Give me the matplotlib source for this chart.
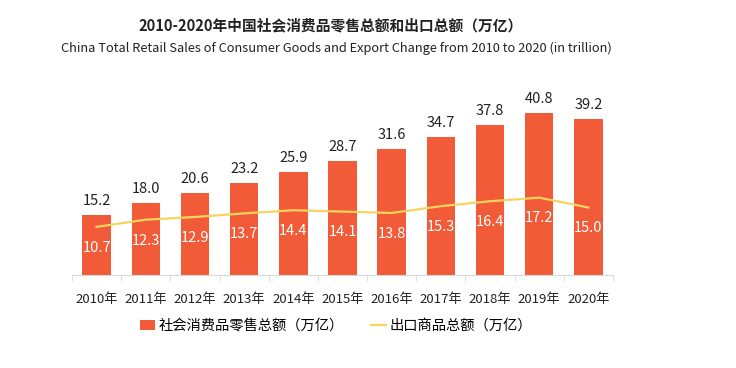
import matplotlib.pyplot as plt
import numpy as np

plt.rcParams["font.family"] = ["Noto Sans CJK SC", "DejaVu Sans"]

years = ["2010年", "2011年", "2012年", "2013年", "2014年", "2015年",
         "2016年", "2017年", "2018年", "2019年", "2020年"]
retail = [15.2, 18.0, 20.6, 23.2, 25.9, 28.7, 31.6, 34.7, 37.8, 40.8, 39.2]
export = [10.7, 12.3, 12.9, 13.7, 14.4, 14.1, 13.8, 15.3, 16.4, 17.2, 15.0]

BAR_COLOR = "#F15B37"
LINE_COLOR = "#F8D35E"

fig = plt.figure(figsize=(7.36, 3.68), dpi=100)
ax = fig.add_axes([72 / 736, 93 / 368, 541 / 736, 179 / 368])
x = np.arange(len(years))

bars = ax.bar(x, retail, width=0.58, color=BAR_COLOR, zorder=2)
for xi, v in zip(x, retail):
    ax.annotate(f"{v:.1f}", (xi, v), xytext=(0, 5), textcoords="offset points",
                ha="center", va="bottom", fontsize=10.5, color="#222222")

ax.set_xlim(-0.5, len(years) - 0.5)
ax.set_ylim(0, 45)
ax.set_yticks([])
for s in ["top", "right", "left"]:
    ax.spines[s].set_visible(False)
ax.spines["bottom"].set_color("#d9d9d9")
ax.set_xticks(x)
ax.set_xticklabels(years, fontsize=9.5, color="#222222")
ax.tick_params(axis="x", length=0, pad=13)
# tick marks between categories
ax.set_xticks(np.arange(-0.5, len(years), 1), minor=True)
ax.tick_params(axis="x", which="minor", length=4, color="#d9d9d9")

ax2 = ax.twinx()
ax2.set_ylim(0, 39.8)
line, = ax2.plot(x, export, color=LINE_COLOR, lw=1.6, zorder=3)
for xi, v in zip(x, export):
    ax2.annotate(f"{v:.1f}", (xi, v), xytext=(0, -15), textcoords="offset points",
                 ha="center", va="center", fontsize=10.5, color="white")
ax2.set_yticks([])
for s in ["top", "right", "left", "bottom"]:
    ax2.spines[s].set_visible(False)

fig.text(0.449, 0.931, "2010-2020年中国社会消费品零售总额和出口总额（万亿）",
         ha="center", va="center", fontsize=10.6, fontweight="bold", color="#222222")
fig.text(0.457, 0.868, "China Total Retail Sales of Consumer Goods and Export Change from 2010 to 2020 (in trillion)",
         ha="center", va="center", fontsize=9.25, color="#222222")

fig.legend([bars, line], ["社会消费品零售总额（万亿）", "出口商品总额（万亿）"],
           loc="center", bbox_to_anchor=(0.456, 0.114), ncol=2, frameon=False,
           fontsize=10.3, handlelength=1.1, handletextpad=0.2, columnspacing=1.9)

fig.savefig("out.png", dpi=100, facecolor="white")
